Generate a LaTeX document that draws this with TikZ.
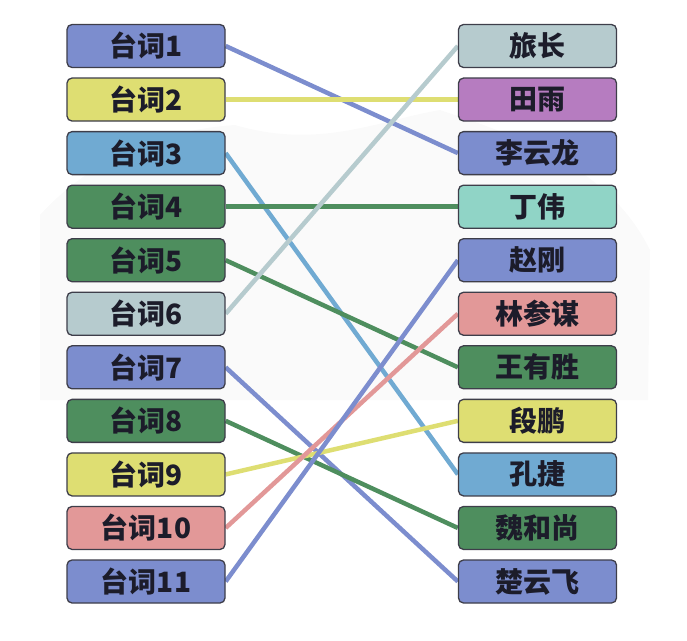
\documentclass[tikz,border=0pt]{standalone}
\usepackage{fontspec}
\newfontfamily\cjk{Noto Sans CJK SC}
\usetikzlibrary{backgrounds}
\definecolor{bl}{RGB}{124,141,206}
\definecolor{ye}{RGB}{222,222,114}
\definecolor{lb}{RGB}{112,170,210}
\definecolor{gr}{RGB}{78,142,94}
\definecolor{lg}{RGB}{182,203,206}
\definecolor{pk}{RGB}{226,152,152}
\definecolor{pu}{RGB}{182,124,192}
\definecolor{tq}{RGB}{144,212,198}
\definecolor{ink}{RGB}{28,28,42}

\begin{document}
\begin{tikzpicture}
  [x=1pt, y=-1pt,
   card/.style={draw=ink!85, line width=1.3pt, rounded corners=5pt,
     minimum width=158pt, minimum height=43pt, inner sep=0pt,
     font=\cjk\bfseries\fontsize{28}{28}\selectfont, text=ink},
   link/.style={line width=4.5pt}]
  \useasboundingbox (0,0) rectangle (687,640);
    \foreach \num/\c in {1/bl,2/ye,3/lb,4/gr,5/gr,6/lg,
                  7/bl,8/gr,9/ye,10/pk,11/bl}{
      \node[card, fill=\c] (l\num) at (146,{46+(\num-1)*53.55}) {台词\num}; }
    \foreach \num/\t/\c in {1/旅长/lg,2/田雨/pu,3/李云龙/bl,4/丁伟/tq,
                  5/赵刚/bl,6/林参谋/pk,7/王有胜/gr,8/段鹏/ye,
                  9/孔捷/lb,10/魏和尚/gr,11/楚云飞/bl}{
      \node[card, fill=\c] (r\num) at (537.5,{46+(\num-1)*53.55}) {\t}; }
  \begin{scope}[on background layer]
    \fill[gray!4] (40,215) .. controls (90,160) and (160,130) .. (235,125)
      .. controls (320,150) and (380,120) .. (440,110)
      .. controls (530,140) and (610,170) .. (650,250)
      -- (648,400) -- (40,400) -- cycle;
    \foreach \from/\to/\c in {1/3/bl,2/2/ye,3/9/lb,4/4/gr,5/7/gr,6/1/lg,
                  7/11/bl,8/10/gr,9/8/ye,10/6/pk,11/5/bl}{
      \draw[link, \c] (l\from.east) -- (r\to.west);}
  \end{scope}
\end{tikzpicture}
\end{document}
